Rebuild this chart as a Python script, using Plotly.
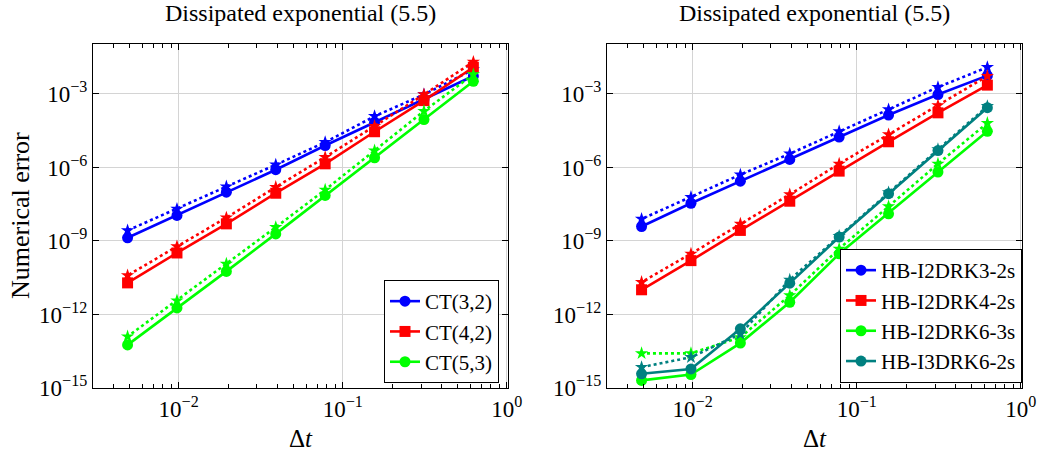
import plotly.graph_objects as go

# Time step sizes (halved each refinement)
dt = [0.625, 0.3125, 0.15625, 0.078125, 0.0390625, 0.01953125, 0.009765625, 0.0048828125]

# Left panel: CT schemes (solid = first variant, dotted = second variant)
ct32 = [5.4e-3, 6.0e-4, 7.1e-5, 7.9e-6, 8.1e-7, 9.8e-8, 1.1e-8, 1.35e-9]
ct32_b = [1.0e-2, 9.5e-4, 1.23e-4, 1.07e-5, 1.29e-6, 1.66e-7, 2.04e-8, 2.69e-9]
ct42 = [1.23e-2, 5.37e-4, 2.88e-5, 1.41e-6, 8.9e-8, 5.0e-9, 3.24e-10, 1.95e-11]
ct42_b = [2.04e-2, 9.5e-4, 4.9e-5, 2.63e-6, 1.58e-7, 8.9e-9, 6.0e-10, 3.9e-11]
ct53 = [3.3e-3, 9.1e-5, 2.5e-6, 7.2e-8, 1.95e-9, 5.75e-11, 1.86e-12, 5.75e-14]
ct53_b = [6.3e-3, 2.0e-4, 4.9e-6, 1.23e-7, 3.63e-9, 1.17e-10, 3.7e-12, 1.26e-13]

# Right panel: HB schemes
hb3 = [5.6e-3, 9.5e-4, 1.38e-4, 1.74e-5, 2.14e-6, 2.75e-7, 3.47e-8, 3.9e-9]
hb3_b = [1.23e-2, 1.9e-3, 2.34e-4, 3.0e-5, 3.63e-6, 5.1e-7, 6.2e-8, 7.9e-9]
hb4 = [2.3e-3, 1.7e-4, 1.12e-5, 7.1e-7, 4.2e-8, 2.7e-9, 1.58e-10, 1.02e-11]
hb4_b = [5.4e-3, 3.4e-4, 2.24e-5, 1.41e-6, 7.9e-8, 5.0e-9, 3.0e-10, 2.1e-11]
hb6 = [3.0e-5, 6.5e-7, 1.29e-8, 3.0e-10, 3.16e-12, 6.8e-14, 3.55e-15, 2.04e-15]
hb6_b = [6.5e-5, 1.41e-6, 2.57e-8, 4.8e-10, 6.0e-12, 1.17e-13, 2.6e-14, 2.6e-14]
hb63 = [2.75e-4, 4.9e-6, 8.5e-8, 1.45e-9, 1.9e-11, 2.6e-13, 6.0e-15, 3.8e-15]
hb63_b = [3.16e-4, 5.5e-6, 9.5e-8, 1.58e-9, 2.6e-11, 1.6e-13, 1.8e-14, 7.1e-15]

left_names = ["CT(3,2)", "CT(4,2)", "CT(5,3)"]
right_names = ["HB-I2DRK3-2s", "HB-I2DRK4-2s", "HB-I2DRK6-3s", "HB-I3DRK6-2s"]

x_tickvals = [0.01, 0.1, 1]
x_ticktext = ["10<sup>−2</sup>", "10<sup>−1</sup>", "10<sup>0</sup>"]
y_tickvals = [1e-15, 1e-12, 1e-9, 1e-6, 1e-3]
y_ticktext = ["10<sup>−15</sup>", "10<sup>−12</sup>", "10<sup>−9</sup>", "10<sup>−6</sup>", "10<sup>−3</sup>"]

title_text = "Dissipated exponential (5.5)"

BLUE, RED, GREEN, TEAL = "#0000ff", "#ff0000", "#00ff00", "#008080"
FONT = "Liberation Serif, DejaVu Serif, serif"

fig = go.Figure()


def add_pair(solid, dotted, name, color, symbol, xa, ya, legend):
    fig.add_trace(go.Scatter(
        x=dt, y=solid, name=name, mode="lines+markers",
        line=dict(color=color, width=2.6),
        marker=dict(symbol=symbol, size=11, color=color),
        xaxis=xa, yaxis=ya, legend=legend,
    ))
    fig.add_trace(go.Scatter(
        x=dt, y=dotted, name=name, mode="lines+markers", showlegend=False,
        line=dict(color=color, width=2.6, dash="3px,3px"),
        marker=dict(symbol="star", size=10, color=color),
        xaxis=xa, yaxis=ya,
    ))


add_pair(ct32, ct32_b, left_names[0], BLUE, "circle", "x", "y", "legend")
add_pair(ct42, ct42_b, left_names[1], RED, "square", "x", "y", "legend")
add_pair(ct53, ct53_b, left_names[2], GREEN, "circle", "x", "y", "legend")

add_pair(hb3, hb3_b, right_names[0], BLUE, "circle", "x2", "y2", "legend2")
add_pair(hb4, hb4_b, right_names[1], RED, "square", "x2", "y2", "legend2")
add_pair(hb6, hb6_b, right_names[2], GREEN, "circle", "x2", "y2", "legend2")
add_pair(hb63, hb63_b, right_names[3], TEAL, "circle", "x2", "y2", "legend2")

W, H = 1042, 457

common_x = dict(
    type="log", range=[-2.522, 0.007],
    tickvals=x_tickvals, ticktext=x_ticktext,
    ticks="inside", ticklen=6, tickcolor="black", tickwidth=1,
    showgrid=True, gridcolor="#d4d4d4", gridwidth=1,
    showline=True, linecolor="black", linewidth=1.3, mirror="ticks",
    tickfont=dict(family=FONT, size=23, color="black"),
    minor=dict(ticks="inside", ticklen=3.5, tickcolor="black", dtick="D1", showgrid=False),
)
common_y = dict(
    type="log", range=[-15, -0.96],
    tickvals=y_tickvals, ticktext=y_ticktext,
    ticks="inside", ticklen=6, tickcolor="black", tickwidth=1,
    showgrid=True, gridcolor="#d4d4d4", gridwidth=1,
    showline=True, linecolor="black", linewidth=1.3, mirror="ticks",
    tickfont=dict(family=FONT, size=23, color="black"),
)

legend_style = dict(
    xanchor="right", yanchor="bottom",
    bgcolor="white", bordercolor="black", borderwidth=1,
    font=dict(family=FONT, size=21, color="black"),
    tracegroupgap=0, itemwidth=30,
)

y_dom = [1 - 388 / H, 1 - 44 / H]
fig.update_layout(
    width=W, height=H,
    margin=dict(l=0, r=0, t=0, b=0, autoexpand=False),
    paper_bgcolor="white", plot_bgcolor="white",
    xaxis=dict(domain=[93 / W, 508 / W], anchor="y", **common_x),
    yaxis=dict(domain=y_dom, anchor="x", **common_y),
    xaxis2=dict(domain=[607 / W, 1022 / W], anchor="y2", **common_x),
    yaxis2=dict(domain=y_dom, anchor="x2", **common_y),
    legend=dict(x=499 / W, y=1 - 383 / H, **legend_style),
    legend2=dict(x=1022 / W, y=1 - 383 / H, **legend_style),
    annotations=[
        dict(text=title_text, x=300.5 / W, y=1 - 13 / H, xref="paper", yref="paper",
             showarrow=False, xanchor="center", yanchor="middle",
             font=dict(family=FONT, size=24, color="black")),
        dict(text=title_text, x=814.5 / W, y=1 - 13 / H, xref="paper", yref="paper",
             showarrow=False, xanchor="center", yanchor="middle",
             font=dict(family=FONT, size=24, color="black")),
        dict(text="Numerical error", x=20 / W, y=1 - 216 / H, xref="paper", yref="paper",
             showarrow=False, xanchor="center", yanchor="middle", textangle=-90,
             font=dict(family=FONT, size=26, color="black")),
        dict(text="Δ<i>t</i>", x=300.5 / W, y=1 - 438 / H, xref="paper", yref="paper",
             showarrow=False, xanchor="center", yanchor="middle",
             font=dict(family=FONT, size=25, color="black")),
        dict(text="Δ<i>t</i>", x=814.5 / W, y=1 - 438 / H, xref="paper", yref="paper",
             showarrow=False, xanchor="center", yanchor="middle",
             font=dict(family=FONT, size=25, color="black")),
    ],
)

fig.write_html("out.html")
